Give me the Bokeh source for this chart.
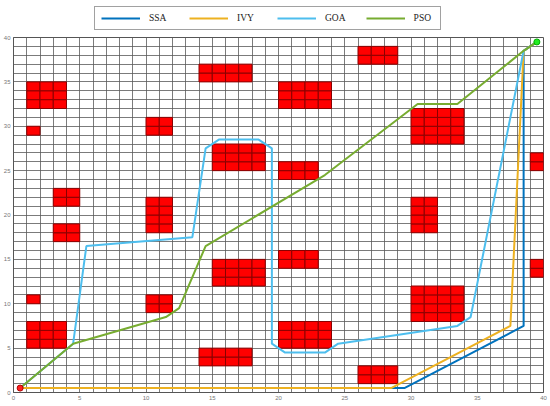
from bokeh.plotting import figure
from bokeh.models import Legend, LegendItem, SingleIntervalTicker, Range1d
from bokeh.layouts import column
from bokeh.embed import file_html
from bokeh.resources import INLINE

# Obstacles (grid cells blocks): x0, x1, y0, y1
obs_x0 = [1, 1, 3, 3, 1, 1, 10, 10, 10, 14, 15, 15, 14, 20, 20, 20, 20, 26, 26, 30, 30, 30, 39, 39]
obs_x1 = [4, 2, 5, 5, 2, 4, 12, 12, 12, 18, 19, 19, 18, 24, 23, 23, 24, 29, 29, 34, 32, 34, 40, 40]
obs_y0 = [32, 29, 21, 17, 10, 5, 29, 18, 9, 35, 25, 12, 3, 32, 24, 14, 5, 37, 1, 28, 18, 8, 25, 13]
obs_y1 = [35, 30, 23, 19, 11, 8, 31, 22, 11, 37, 28, 15, 5, 35, 26, 16, 8, 39, 3, 32, 22, 12, 27, 15]

# Paths
ssa_x = [0.5, 29.5, 38.5, 38.5, 39.5]
ssa_y = [0.5, 0.5, 7.5, 38.5, 39.5]
ivy_x = [0.5, 28.5, 37.5, 38.5, 39.5]
ivy_y = [0.5, 0.5, 7.5, 38.5, 39.5]
goa_x = [0.5, 4.5, 5.5, 13.5, 14.5, 15.5, 18.5, 19.5, 19.5, 20.5, 23.5, 24.5, 33.5, 34.5, 38.5, 39.5]
goa_y = [0.5, 5.5, 16.5, 17.5, 27.5, 28.5, 28.5, 27.5, 5.5, 4.5, 4.5, 5.5, 7.5, 8.5, 38.5, 39.5]
pso_x = [0.5, 4.5, 11.5, 12.5, 14.5, 23.5, 30.5, 33.5, 38.5, 39.5]
pso_y = [0.5, 5.5, 8.5, 9.5, 16.5, 24.5, 32.5, 32.5, 38.5, 39.5]

start_pt = (0.5, 0.5)
goal_pt = (39.5, 39.5)

names = ["SSA", "IVY", "GOA", "PSO"]
colors = ["#0072BD", "#EDB120", "#4DBEEE", "#77AC30"]
paths = [(ssa_x, ssa_y), (ivy_x, ivy_y), (goa_x, goa_y), (pso_x, pso_y)]

# ---- legend strip (its own ranges keep the path data out of view) ----
lf = figure(width=550, height=32, output_backend="svg", toolbar_location=None,
            x_range=Range1d(-200, -199), y_range=Range1d(-200, -199),
            x_axis_type=None, y_axis_type=None,
            min_border_left=0, min_border_right=0, min_border_top=0, min_border_bottom=0)
lf.outline_line_color = None
lf.xgrid.visible = False
lf.ygrid.visible = False
leg_renderers = [lf.line(xs, ys, line_color=c, line_width=2) for (xs, ys), c in zip(paths, colors)]
legend = Legend(items=[LegendItem(label=n, renderers=[r]) for n, r in zip(names, leg_renderers)],
                orientation="horizontal", location=(81, 2),
                label_text_font="Liberation Serif", label_text_font_size="9.5px",
                label_text_color="#222222",
                glyph_width=39, glyph_height=10, label_height=10, label_standoff=9,
                spacing=20, padding=6, margin=0,
                border_line_color="#444444", border_line_width=1,
                background_fill_alpha=1)
lf.add_layout(legend)

# ---- main plot ----
p = figure(width=550, height=374, output_backend="svg", toolbar_location=None,
           x_range=Range1d(0, 40), y_range=Range1d(0, 40),
           min_border_left=12, min_border_right=7, min_border_top=5, min_border_bottom=14)

for ax in (p.xaxis, p.yaxis):
    ax.ticker = SingleIntervalTicker(interval=5)
    ax.major_tick_out = 0
    ax.major_tick_in = 0
    ax.minor_tick_out = 0
    ax.minor_tick_in = 0
    ax.major_label_text_font_size = "6px"
    ax.major_label_text_color = "#777777"
    ax.major_label_text_font = "Liberation Sans"
    ax.major_label_standoff = 3
    ax.axis_line_color = "#555555"

p.xgrid.ticker = SingleIntervalTicker(interval=1)
p.ygrid.ticker = SingleIntervalTicker(interval=1)
for g in (p.xgrid, p.ygrid):
    g.grid_line_color = "#5a5a5a"
    g.grid_line_alpha = 0.8
    g.grid_line_width = 1
p.outline_line_color = "#555555"
p.background_fill_color = "white"

# obstacle cells
cx, cy = [], []
for x0, x1, y0, y1 in zip(obs_x0, obs_x1, obs_y0, obs_y1):
    for i in range(x0, x1):
        for j in range(y0, y1):
            cx.append(i + 0.5)
            cy.append(j + 0.5)
p.rect(x=cx, y=cy, width=1, height=1, fill_color="#FF0000", line_color="#8a0000", line_width=1)

for (xs, ys), c in zip(paths, colors):
    p.line(xs, ys, line_color=c, line_width=2)

p.scatter([start_pt[0]], [start_pt[1]], size=6, fill_color="#FF2020", line_color="#B00000")
p.scatter([goal_pt[0]], [goal_pt[1]], size=6, fill_color="#22EE22", line_color="#00B000")

layout = column(lf, p, spacing=0)
open("out.html", "w").write(file_html(layout, INLINE))
